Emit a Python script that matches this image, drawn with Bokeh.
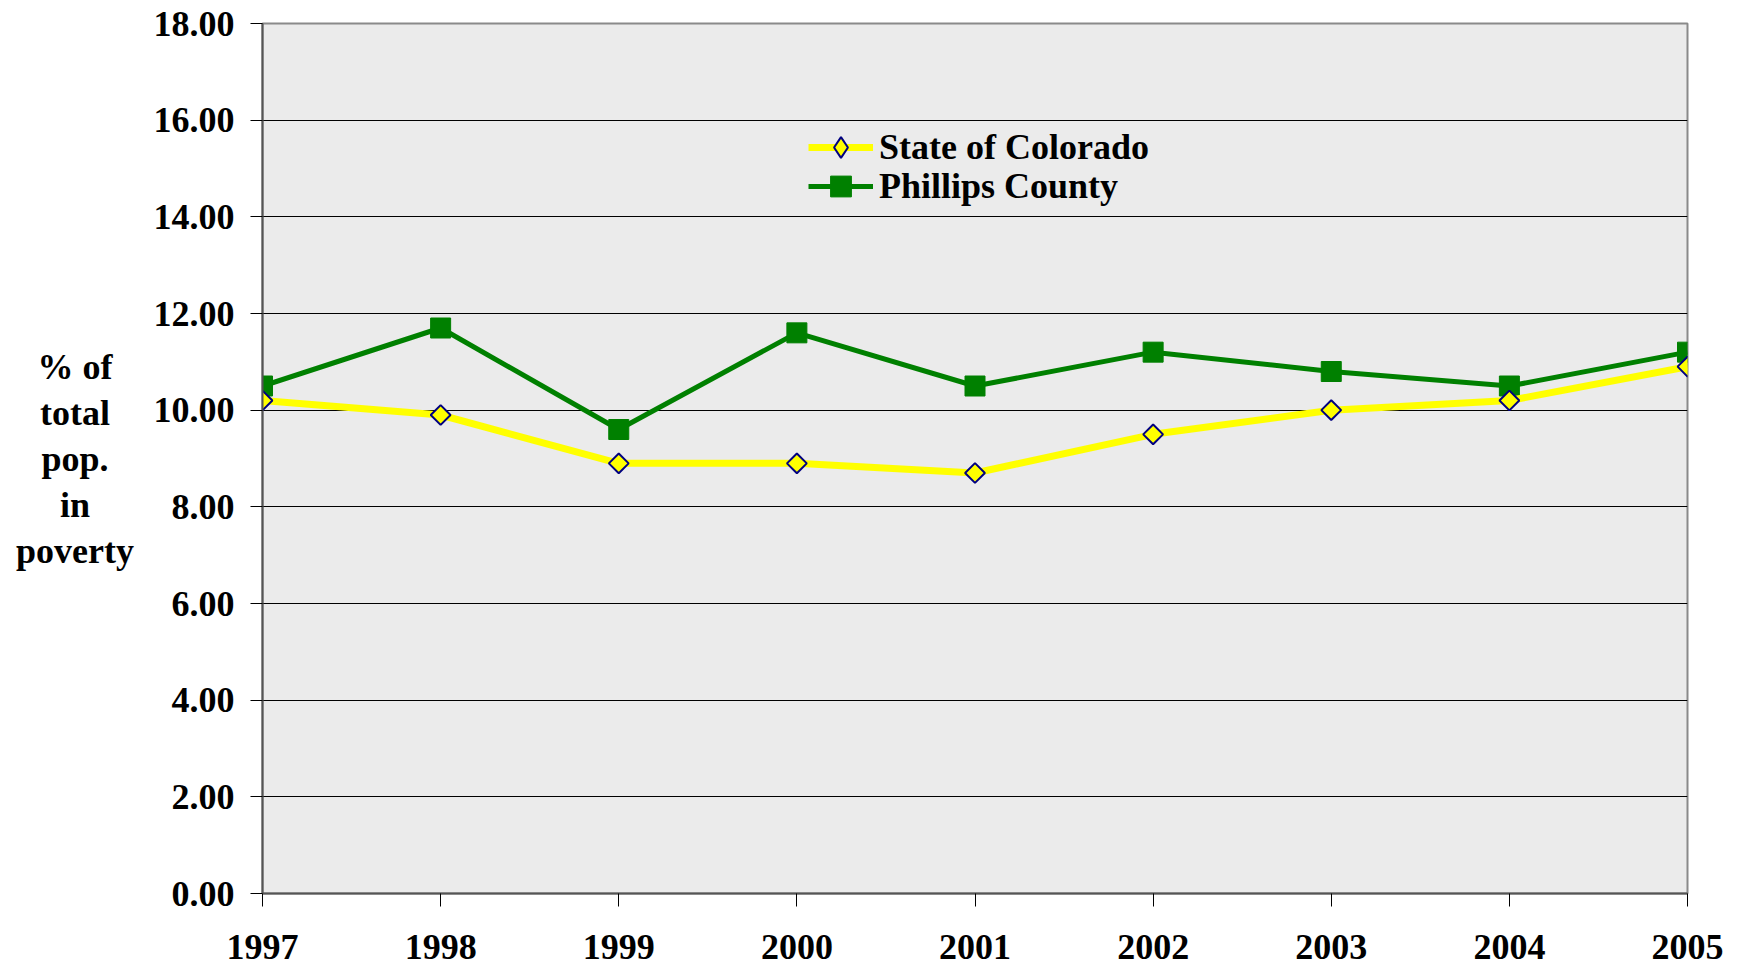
from bokeh.plotting import figure
from bokeh.models import Range1d, FixedTicker, NumeralTickFormatter, Legend, LegendItem, Div
from bokeh.layouts import row
from bokeh.embed import file_html
from bokeh.resources import INLINE
import math

years = [1997, 1998, 1999, 2000, 2001, 2002, 2003, 2004, 2005]
colorado = [10.2, 9.9, 8.9, 8.9, 8.7, 9.5, 10.0, 10.2, 10.9]
phillips = [10.5, 11.7, 9.6, 11.6, 10.5, 11.2, 10.8, 10.5, 11.2]
y_ticks = [0, 2, 4, 6, 8, 10, 12, 14, 16, 18]
series_names = ["State of Colorado", "Phillips County"]
y_title_lines = ["% of", "total", "pop.", "in", "poverty"]

FONT = "Liberation Serif"
H = 966
DIV_W = 150

p = figure(width=1736 - DIV_W, height=H, output_backend="svg", toolbar_location=None,
           x_range=Range1d(1997, 2005), y_range=Range1d(0, 18),
           min_border_left=258 - DIV_W, min_border_right=49, min_border_top=23,
           min_border_bottom=H - 23 - 870)
p.margin = 0
p.background_fill_color = "#ebebeb"
p.border_fill_color = "white"
p.outline_line_color = "#8a8a8a"
p.outline_line_width = 2

p.xgrid.grid_line_color = None
p.ygrid.grid_line_color = "black"
p.ygrid.grid_line_width = 1
p.ygrid.ticker = FixedTicker(ticks=y_ticks)

p.xaxis.ticker = FixedTicker(ticks=years)
p.yaxis.ticker = FixedTicker(ticks=y_ticks)
p.yaxis.formatter = NumeralTickFormatter(format="0.00")

for ax in (p.xaxis[0], p.yaxis[0]):
    ax.major_label_text_font = FONT
    ax.major_label_text_font_style = "bold"
    ax.major_label_text_font_size = "36px"
    ax.major_label_text_color = "black"
    ax.axis_line_color = "#555555"
    ax.axis_line_width = 2
    ax.major_tick_line_color = "black"
    ax.major_tick_in = 0
    ax.minor_tick_line_color = None

p.xaxis.major_tick_out = 13
p.yaxis.major_tick_out = 12
p.xaxis.major_label_standoff = 28
p.yaxis.major_label_standoff = 16

gl = p.line(years, phillips, line_color="#008000", line_width=5)
gm = p.scatter(years, phillips, marker="square", size=20, fill_color="#008000", line_color="#008000")
yl = p.line(years, colorado, line_color="#ffff00", line_width=7)
ym = p.scatter(years, colorado, marker="square", angle=math.pi / 4, size=14,
               fill_color="#ffff00", line_color="#000080", line_width=2)
# legend-only marker (no data points shown)
ylm = p.scatter([float("nan")], [float("nan")], marker="diamond", size=20,
                fill_color="#ffff00", line_color="#000080", line_width=2)


def make_legend(label, renderers, y):
    lg = Legend(items=[LegendItem(label=label, renderers=renderers)], location=(546, y))
    lg.border_line_color = None
    lg.background_fill_alpha = 0
    lg.padding = 0
    lg.margin = 0
    lg.spacing = 0
    lg.glyph_width = 65
    lg.glyph_height = 52
    lg.label_standoff = 6
    lg.label_text_font = FONT
    lg.label_text_font_style = "bold"
    lg.label_text_font_size = "36px"
    lg.label_text_color = "black"
    return lg


p.add_layout(make_legend(series_names[0], [yl, ylm], 720), "center")
p.add_layout(make_legend(series_names[1], [gl, gm], 681), "center")

title_html = ("<div style=\"padding-top:344px; text-align:center; font-family:'Liberation Serif'; "
              "font-weight:bold; font-size:36px; line-height:46px; color:black; width:%dpx;\">%s</div>"
              % (DIV_W, "<br>".join(y_title_lines)))
title_div = Div(text=title_html, width=DIV_W, height=H, margin=0)

layout = row(title_div, p, spacing=0)
open("out.html", "w").write(file_html(layout, INLINE))
